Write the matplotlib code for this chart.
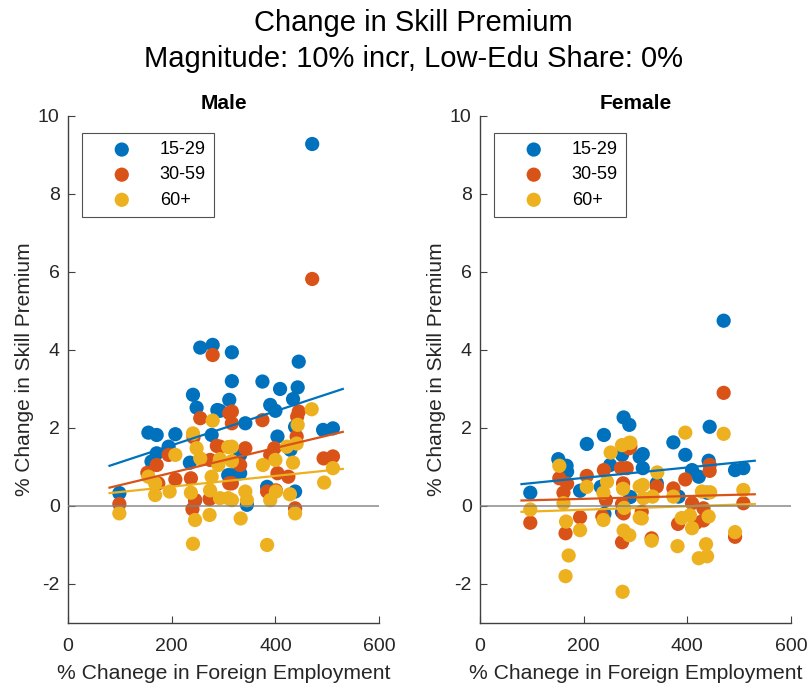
import numpy as np
import matplotlib
matplotlib.use('Agg')
import matplotlib.pyplot as plt

plt.rcParams['font.family'] = ['Liberation Sans', 'DejaVu Sans']
plt.rcParams['axes.unicode_minus'] = False

#%% data

groups = ['15-29', '30-59', '60+']
colors = ['#0072BD', '#D95319', '#EDB120']

# male
male_x_1529 = [99, 155, 161, 171, 171, 194, 207, 235, 241, 245, 248, 255, 277, 279, 288, 293, 309, 311, 316, 316,
               316, 332, 332, 342, 345, 375, 384, 390, 400, 404, 409, 429, 434, 438, 438, 443, 445, 471, 492, 511]
male_y_1529 = [0.33, 1.88, 1.14, 1.82, 1.35, 1.52, 1.84, 1.11, 2.85, 0.15, 2.52, 4.06, 1.82, 4.13, 2.46, 2.44, 0.79,
               2.72, 3.94, 3.2, 0.79, 1.31, 0.84, 2.12, 0.03, 3.19, 0.49, 2.59, 2.44, 1.78, 3.0, 1.44, 2.74, 2.03,
               0.37, 3.04, 3.70, 9.28, 1.95, 1.99]
male_x_3059 = [99, 153, 171, 174, 194, 207, 237, 240, 242, 245, 255, 273, 274, 279, 287, 293, 311, 311, 316, 316,
               316, 332, 342, 375, 384, 390, 398, 401, 404, 425, 438, 441, 442, 445, 471, 493, 511]
male_y_3059 = [0.05, 0.85, 1.05, 0.58, 1.31, 0.68, 0.71, -0.08, 1.76, 0.15, 2.25, 0.18, 1.18, 3.87, 1.54, 1.52,
               2.38, 0.58, 2.42, 2.12, 0.58, 1.05, 1.48, 2.2, 0.37, 1.31, 1.48, 0.4, 0.84, 0.75, -0.06, 1.78, 2.29,
               2.42, 5.82, 1.22, 1.27]
male_x_60 = [99, 155, 168, 168, 196, 207, 237, 241, 241, 245, 248, 255, 273, 274, 277, 279, 290, 293, 293, 309,
             309, 316, 316, 316, 333, 342, 345, 376, 384, 390, 400, 401, 422, 428, 434, 438, 441, 443, 470, 494, 511]
male_y_60 = [-0.19, 0.75, 0.58, 0.28, 0.37, 1.31, 0.34, 1.86, -0.97, -0.36, 1.48, 1.22, -0.23, 0.40, 0.75, 2.19,
             1.05, 1.2, 0.2, 1.51, 0.2, 1.52, 1.15, 0.15, -0.32, 0.37, 0.15, 1.05, -1.0, 0.15, 1.18, 0.37, 1.52,
             0.3, 1.11, -0.19, 1.6, 2.08, 2.48, 0.6, 0.97]

# female
female_x_1529 = [97, 151, 167, 168, 193, 206, 233, 239, 240, 251, 274, 274, 277, 288, 290, 308, 314, 314, 341, 373,
                 383, 396, 409, 422, 438, 441, 443, 470, 492, 508]
female_y_1529 = [0.34, 1.2, 1.03, 0.88, 0.39, 1.59, 0.49, 1.82, -0.2, 1.05, 1.31, -0.15, 2.27, 2.08, 0.23, 1.26,
                 1.33, 0.97, 0.58, 1.63, 0.24, 1.31, 0.92, 0.75, 0.34, 1.16, 2.03, 4.75, 0.92, 0.97]
female_x_3059 = [97, 153, 161, 165, 168, 193, 206, 236, 239, 243, 272, 274, 274, 276, 277, 283, 288, 290, 312, 331,
                 341, 373, 382, 396, 409, 417, 431, 431, 443, 443, 470, 492, 508]
female_y_3059 = [-0.43, 0.71, 0.34, -0.7, 0.57, -0.29, 0.77, -0.27, 0.92, 0.15, 0.97, 0.05, -0.93, 0.58, -0.19,
                 0.97, 1.48, 1.52, -0.15, -0.83, 0.5, 0.45, -0.46, 0.68, 0.07, -0.43, -0.06, -0.37, 1.05, 0.9, 2.9,
                 -0.79, 0.07]
female_x_60 = [97, 153, 161, 165, 166, 171, 193, 206, 238, 238, 245, 252, 274, 275, 276, 277, 278, 288, 288, 290,
               308, 308, 312, 314, 315, 331, 333, 342, 373, 381, 389, 396, 405, 409, 422, 428, 436, 438, 441, 444,
               470, 492, 508]
female_y_60 = [-0.09, 1.03, 0.07, -1.8, -0.4, -1.27, -0.62, 0.49, 0.34, -0.36, 0.62, 1.37, 1.56, -2.2, 0.44, -0.63,
               -0.05, 1.62, -0.75, 1.62, 0.5, -0.3, -0.32, 0.54, 0.2, -0.89, 0.24, 0.86, 0.24, -1.03, -0.31, 1.88,
               -0.24, -0.57, -1.34, 0.37, -0.98, -1.29, -0.27, 0.35, 1.85, -0.67, 0.41]

# linear fit lines (end points)
fit_x = [80, 530]
male_fit = [[1.03, 3.0], [0.47, 1.9], [0.33, 0.95]]
female_fit = [[0.56, 1.16], [0.14, 0.30], [-0.15, 0.05]]

panels = [
    ('Male', [(male_x_1529, male_y_1529), (male_x_3059, male_y_3059), (male_x_60, male_y_60)], male_fit),
    ('Female', [(female_x_1529, female_y_1529), (female_x_3059, female_y_3059), (female_x_60, female_y_60)],
     female_fit),
]

#%% plot

fig = plt.figure(figsize=(8.1, 6.88), dpi=100)
fig.suptitle('Change in Skill Premium\nMagnitude: 10% incr, Low-Edu Share: 0%',
             fontsize=21, x=0.51, y=0.987, va='top', linespacing=1.37)

lefts = [0.084, 0.5926]
for k, (name, series, fits) in enumerate(panels):
    ax = fig.add_axes([lefts[k], 0.0945, 0.384, 0.737])
    for (xs, ys), c, lab in zip(series, colors, groups):
        ax.scatter(xs, ys, s=105, c=c, edgecolors='none', label=lab, zorder=2)
    for f, c in zip(fits, colors):
        ax.plot(fit_x, f, c=c, lw=1.6, zorder=3)
    ax.axhline(0, color='#808080', lw=1.2, alpha=0.85, zorder=4)

    ax.set_xlim(0, 600)
    ax.set_ylim(-3, 10)
    ax.set_xticks([0, 200, 400, 600])
    ax.set_yticks([-2, 0, 2, 4, 6, 8, 10])
    for s in ['top', 'right']:
        ax.spines[s].set_visible(False)
    for s in ['left', 'bottom']:
        ax.spines[s].set_color('#404040')
        ax.spines[s].set_linewidth(1.0)
    ax.tick_params(direction='in', length=5, width=0.8, color='#404040',
                   labelsize=14, labelcolor='#262626')
    ax.tick_params(axis='x', pad=11)
    ax.tick_params(axis='y', pad=6)
    ax.set_title(name, fontsize=15, fontweight='bold', pad=5)
    ax.set_xlabel('% Chanege in Foreign Employment', fontsize=15.2, color='#262626', labelpad=6)
    ax.set_ylabel('% Change in Skill Premium', fontsize=15, color='#262626', labelpad=3)

    leg = ax.legend(loc='upper left', bbox_to_anchor=(0.045, 0.966), borderaxespad=0,
                    fontsize=13, frameon=True, fancybox=False, handlelength=3.5,
                    handletextpad=0.35, borderpad=0.45, labelspacing=0.45, scatterpoints=1)
    leg.get_frame().set_edgecolor('#262626')
    leg.get_frame().set_linewidth(0.8)

plt.savefig('out.png', dpi=100)
